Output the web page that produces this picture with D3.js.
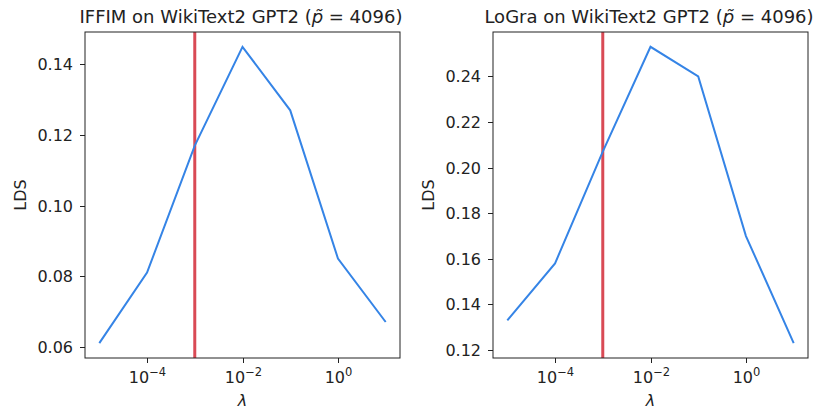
<!DOCTYPE html>
<html>
<head>
<meta charset="UTF-8">
<script src="https://d3js.org/d3.v7.min.js"></script>
<style>
  body { margin: 0; background: white; }
  text { font-family: "DejaVu Sans", sans-serif; fill: #222; }
</style>
</head>
<body>
<svg id="chart" width="836" height="413"></svg>
<script>
// lambda values (log x)
let lambdas = [1e-5, 1e-4, 1e-3, 1e-2, 1e-1, 1e0, 1e1];
let xTicks = [1e-4, 1e-2, 1e0];
let xTickExp = ["\u22124", "\u22122", "0"];
let chosenLambda = 1e-3;

let iffimLDS = [0.061, 0.081, 0.117, 0.145, 0.127, 0.085, 0.067];
let iffimTicks = [0.06, 0.08, 0.10, 0.12, 0.14];

let lograLDS = [0.133, 0.158, 0.207, 0.253, 0.240, 0.170, 0.123];
let lograTicks = [0.12, 0.14, 0.16, 0.18, 0.20, 0.22, 0.24];

let titles = ["IFFIM on WikiText2 GPT2", "LoGra on WikiText2 GPT2"];

let svg = d3.select("#chart");
let plotTop = 32, plotBottom = 358;
let lineColor = "#3584e6";
let redColor = "#d94a55";

function drawPanel(left, right, title, values, yTicks, titleX) {
  let g = svg.append("g");

  let x = d3.scaleLog().domain([Math.pow(10, -5.3), Math.pow(10, 1.3)]).range([left, right]);
  let ext = d3.extent(values);
  let pad = (ext[1] - ext[0]) * 0.05;
  let y = d3.scaleLinear().domain([ext[0] - pad, ext[1] + pad]).range([plotBottom, plotTop]);

  // red vertical line
  g.append("line")
    .attr("x1", x(chosenLambda)).attr("x2", x(chosenLambda))
    .attr("y1", plotTop).attr("y2", plotBottom)
    .attr("stroke", redColor).attr("stroke-width", 3);

  // data line
  let line = d3.line().x((d, i) => x(lambdas[i])).y(d => y(d));
  g.append("path").datum(values)
    .attr("d", line)
    .attr("fill", "none")
    .attr("stroke", lineColor)
    .attr("stroke-width", 2);

  // frame
  g.append("rect")
    .attr("x", left).attr("y", plotTop)
    .attr("width", right - left).attr("height", plotBottom - plotTop)
    .attr("fill", "none").attr("stroke", "#222").attr("stroke-width", 1);

  // y ticks
  yTicks.forEach(t => {
    let yy = Math.round(y(t)) + 0.5;
    g.append("line").attr("x1", left - 5).attr("x2", left)
      .attr("y1", yy).attr("y2", yy).attr("stroke", "#222");
    g.append("text").attr("x", left - 12).attr("y", yy)
      .attr("text-anchor", "end").attr("dominant-baseline", "central")
      .style("font-size", "16px")
      .text(t.toFixed(2));
  });

  // x ticks
  xTicks.forEach((t, i) => {
    let xx = Math.round(x(t)) + 0.5;
    g.append("line").attr("x1", xx).attr("x2", xx)
      .attr("y1", plotBottom).attr("y2", plotBottom + 5).attr("stroke", "#222");
    let txt = g.append("text").attr("x", xx).attr("y", 383)
      .attr("text-anchor", "middle").style("font-size", "16px");
    txt.append("tspan").text("10");
    txt.append("tspan").attr("dy", -7).style("font-size", "11.5px").text(xTickExp[i]);
  });

  // axis labels
  g.append("text")
    .attr("transform", `translate(${left - 65},${(plotTop + plotBottom) / 2}) rotate(-90)`)
    .attr("text-anchor", "middle").attr("dominant-baseline", "central")
    .style("font-size", "16px").text("LDS");
  g.append("text")
    .attr("x", (left + right) / 2).attr("y", 406)
    .attr("text-anchor", "middle")
    .style("font-size", "16px").style("font-style", "italic").text("\u03bb");

  // title
  let tt = g.append("text").attr("x", titleX).attr("y", 23)
    .attr("text-anchor", "middle").style("font-size", "18px");
  tt.append("tspan").text(title + " (");
  tt.append("tspan").style("font-style", "italic").text("p\u0303");
  tt.append("tspan").text(" = 4096)");
}

drawPanel(85, 400, titles[0], iffimLDS, iffimTicks, 241);
drawPanel(493, 808, titles[1], lograLDS, lograTicks, 649);
</script>
</body>
</html>
